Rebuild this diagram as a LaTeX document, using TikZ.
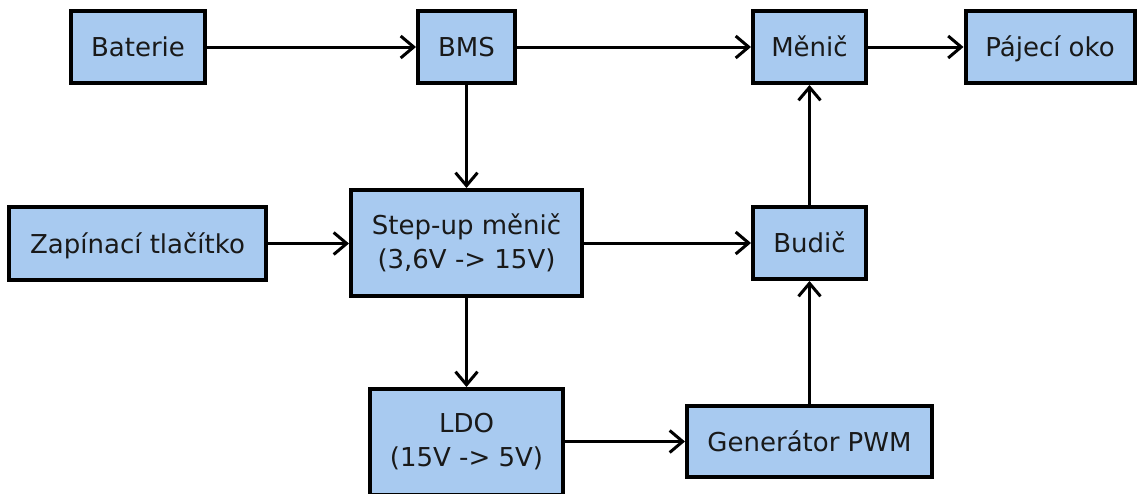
\documentclass[tikz,border=0pt]{standalone}
\usepackage{fontspec}
\setmainfont{DejaVu Sans}
\usetikzlibrary{arrows.meta}
\definecolor{boxfill}{RGB}{168,202,240}
\definecolor{txt}{RGB}{25,25,25}
\begin{document}
\begin{tikzpicture}[x=1pt,y=-1pt,
  blk/.style={draw=black, line width=4pt, fill=boxfill, text=txt, align=center,
    inner sep=0pt, font=\fontsize{26}{34}\selectfont, minimum height=72pt},
  one/.style={text height=19pt, text depth=0pt},
  conn/.style={line width=3pt, -{Straight Barb[length=13pt,width=22pt,line width=3pt]}}]
\useasboundingbox (0,0) rectangle (1138,493);
\begin{scope}
\clip (0,0) rectangle (1138,493);
\node[blk, one, minimum width=134pt] (bat) at (138,47) {Baterie};
\node[blk, one, minimum width=97pt] (bms) at (466.5,47) {BMS};
\node[blk, one, minimum width=113pt] (men) at (809.5,47) {Měnič};
\node[blk, one, minimum width=169pt] (paj) at (1050,47) {Pájecí oko};
\node[blk, one, minimum width=257pt, minimum height=73pt] (zap) at (137.5,243.5) {Zapínací tlačítko};
\node[blk, minimum width=231pt, minimum height=106pt] (step) at (466.5,243) {Step-up měnič\\(3,6V -> 15V)};
\node[blk, one, minimum width=113pt] (bud) at (809.5,243) {Budič};
\node[blk, minimum width=193pt, minimum height=106pt] (ldo) at (466.5,442) {LDO\\(15V -> 5V)};
\node[blk, one, minimum width=245pt, minimum height=71pt] (gen) at (809.5,441.5) {Generátor PWM};
\end{scope}
\draw[conn] (bat) -- (bms);
\draw[conn] (bms) -- (men);
\draw[conn] (men) -- (paj);
\draw[conn] (bms) -- (step);
\draw[conn] (zap.east) -- (zap.east -| step.west);
\draw[conn] (step) -- (bud);
\draw[conn] (step) -- (ldo);
\draw[conn] (ldo.east |- gen.west) -- (gen.west);
\draw[conn] (gen) -- (bud);
\draw[conn] (bud) -- (men);
\end{tikzpicture}
\end{document}
